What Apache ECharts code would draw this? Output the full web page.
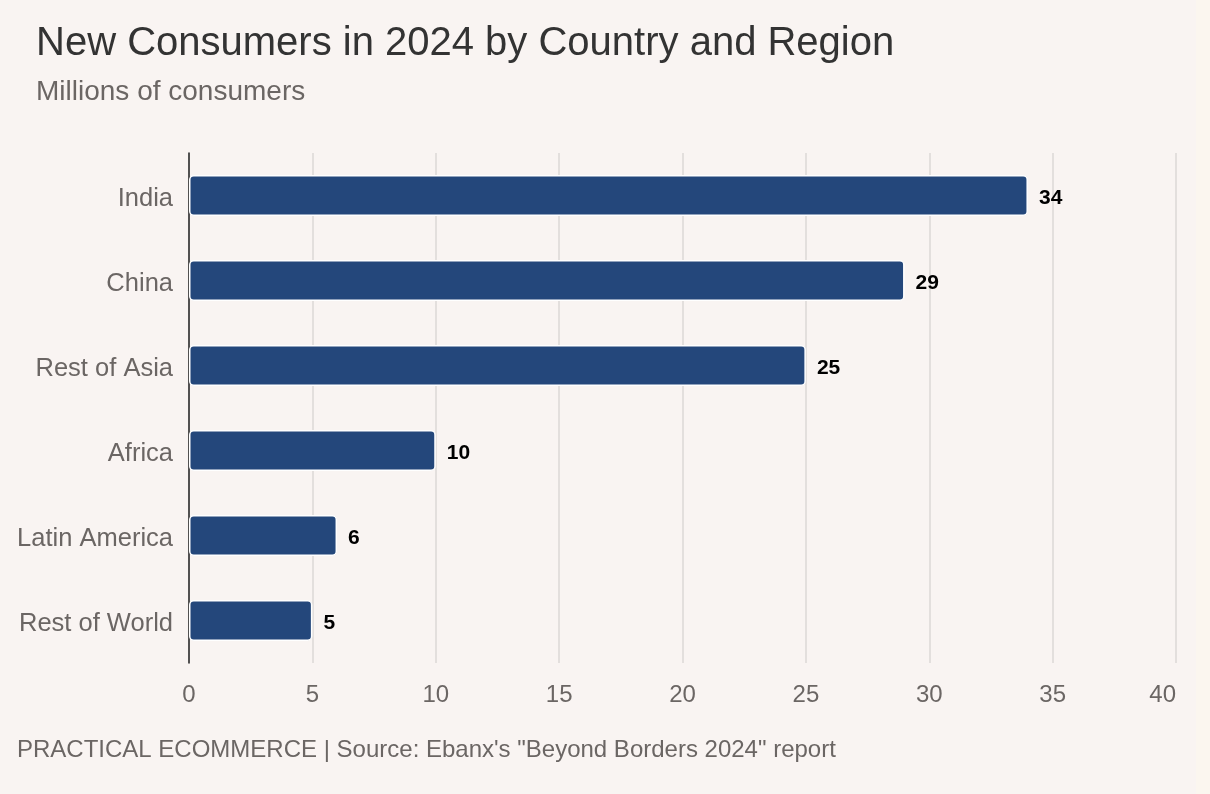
<!DOCTYPE html>
<html>
<head>
<meta charset="utf-8">
<script src="https://cdn.jsdelivr.net/npm/echarts@6/dist/echarts.min.js"></script>
<style>
html,body{margin:0;padding:0;background:#f9f4f2;}
#chart{width:1210px;height:794px;}
</style>
</head>
<body>
<div id="chart"></div>
<script>
const categories = ["India", "China", "Rest of Asia", "Africa", "Latin America", "Rest of World"];
const values = [34, 29, 25, 10, 6, 5];
const xTicks = [0, 5, 10, 15, 20, 25, 30, 35, 40];

const chart = echarts.init(document.getElementById('chart'), null, {renderer: 'canvas'});
const font = "'Liberation Sans', Arial, Helvetica, sans-serif";
chart.setOption({
  backgroundColor: '#f9f4f2',
  animation: false,
  textStyle: {fontFamily: font},
  graphic: [
    {type: 'rect', right: 0, top: 0, shape: {width: 14, height: 794}, style: {fill: '#fbf6ef'}, silent: true},
    {type: 'text', left: 36, top: 24, style: {text: 'New Consumers in 2024 by Country and Region', font: '40px ' + font, fill: '#333333'}},
    {type: 'text', left: 36, top: 78, style: {text: 'Millions of consumers', font: '28px ' + font, fill: '#6b6664'}},
    {type: 'text', left: 17, top: 738, style: {text: 'PRACTICAL ECOMMERCE | Source: Ebanx\'s "Beyond Borders 2024" report', font: '24px ' + font, fill: '#6b6664'}}
  ],
  grid: {left: 189, right: 34, top: 153, bottom: 131, containLabel: false},
  xAxis: {
    type: 'value', min: xTicks[0], max: xTicks[xTicks.length - 1], interval: 5,
    axisLine: {show: false}, axisTick: {show: false},
    splitLine: {show: true, lineStyle: {color: '#e3dfdd', width: 2}},
    axisLabel: {color: '#6b6664', fontSize: 24, margin: 20, fontFamily: font, alignMaxLabel: 'right'}
  },
  yAxis: {
    type: 'category', data: categories, inverse: true,
    axisLine: {show: true, lineStyle: {color: '#222222', width: 1.5}},
    axisTick: {show: false},
    axisLabel: {
      color: '#6b6664', fontSize: 25.5, margin: 16, fontFamily: font,
      formatter: function (v) { return '{c|' + v + '}'; },
      rich: {c: {color: '#6b6664', fontSize: 25.5, fontFamily: font, padding: [7, 0, 0, 0]}}
    }
  },
  series: [{
    type: 'bar', data: values, barWidth: 41,
    itemStyle: {color: '#24477b', borderColor: '#ffffff', borderWidth: 1.5, borderRadius: 4},
    label: {show: true, position: 'right', distance: 11, offset: [0, 3], color: '#000000', fontWeight: 'bold', fontSize: 21, fontFamily: font}
  }]
});
</script>
</body>
</html>
